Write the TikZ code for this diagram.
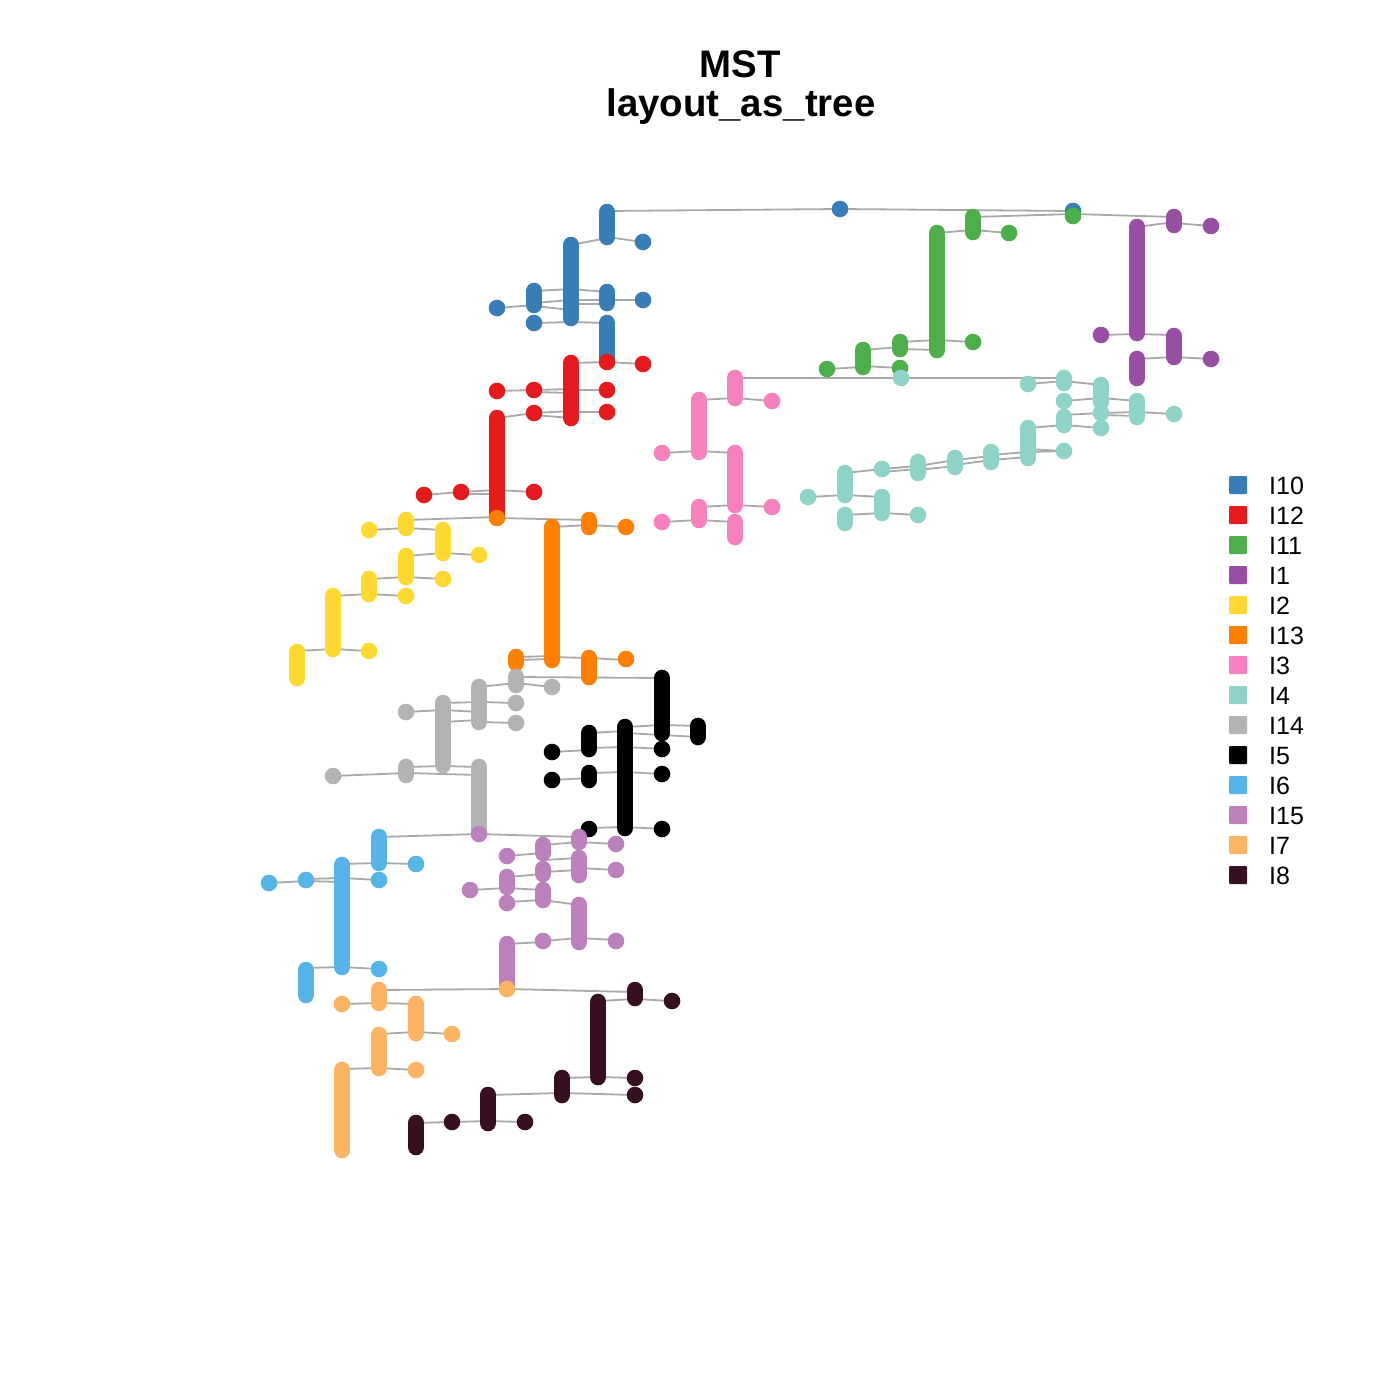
\documentclass[tikz,border=0pt]{standalone}
\usepackage{fontspec}
\setmainfont{Liberation Sans}
\definecolor{c10}{HTML}{377EB8}
\definecolor{c12}{HTML}{E41A1C}
\definecolor{c11}{HTML}{4DAF4A}
\definecolor{c1}{HTML}{984EA3}
\definecolor{c2}{HTML}{FFD92F}
\definecolor{c13}{HTML}{FF7F00}
\definecolor{c3}{HTML}{F781BF}
\definecolor{c4}{HTML}{8DD3C7}
\definecolor{c14}{HTML}{B3B3B3}
\definecolor{c5}{HTML}{000000}
\definecolor{c6}{HTML}{56B4E9}
\definecolor{c15}{HTML}{BC80BD}
\definecolor{c7}{HTML}{FDB462}
\definecolor{c8}{HTML}{360F20}
\definecolor{edgegray}{HTML}{A9A9A9}
\newcommand\mydot[4]{\coordinate (#2) at (#3,#4); \fill[#1] (#2) circle[radius=8.3];}
\newcommand\mybar[5]{\coordinate (#2) at (#3,#4); \coordinate (#2e) at (#3,#5); \draw[#1,line width=16.6pt,line cap=round] (#2) -- (#2e);}
\newcommand\ed[4]{\draw[edge] (#1,#2) -- (#3,#4);}
\newcommand\legrow[4]{\node[lgbox,fill=#1] (lg#2) at (1238,#3) {}; \node[lgtext] (lt#2) at (1269,#3+9) {#4};}
\begin{document}
\begin{tikzpicture}[x=1pt,y=-1pt,
  edge/.style={draw=edgegray,line width=1.8pt},
  lgbox/.style={minimum size=18pt,inner sep=0pt,rounded corners=1pt},
  lgtext/.style={anchor=base west,inner sep=0pt,font=\fontsize{25}{30}\selectfont},
  ttl/.style={anchor=base,inner sep=0pt,font=\fontsize{38.4}{46}\selectfont\bfseries}]
\fill[white] (0,0) rectangle (1400,1400);
\useasboundingbox (0,0) rectangle (1400,1400);
% title
\node[ttl] (t1) at (740,77) {MST};
\node[ttl] (t2) at (741,116) {layout\_as\_tree};
% ---------------- edges ----------------
% I10
\ed{607}{211}{840}{209} \ed{840}{209}{1073}{211}
\ed{571}{245}{607}{238} \ed{607}{237}{643}{242}
\ed{534}{291}{571}{289} \ed{571}{289}{607}{292}
\ed{497}{308}{534}{305} \ed{534}{303}{571}{300} \ed{534}{306}{571}{310}
\ed{571}{300}{607}{300} \ed{571}{304}{607}{304} \ed{607}{300}{643}{300}
\ed{534}{323}{571}{322} \ed{571}{322}{607}{323}
% I11 / I1
\ed{1073}{214}{973}{217} \ed{1073}{214}{1174}{217}
\ed{937}{233}{973}{230} \ed{973}{230}{1009}{233}
\ed{937}{340}{973}{342} \ed{900}{342}{937}{340} \ed{900}{349}{937}{350}
\ed{863}{350}{900}{347} \ed{827}{369}{863}{367} \ed{863}{366}{900}{368}
\ed{1137}{227}{1174}{222} \ed{1174}{223}{1211}{226}
\ed{1101}{335}{1137}{334} \ed{1137}{334}{1174}{335}
\ed{1174}{357}{1211}{359} \ed{1137}{359}{1174}{357}
% I3
\ed{735}{378}{1064}{378}
\ed{699}{400}{735}{398} \ed{735}{398}{772}{401}
\ed{662}{453}{699}{451} \ed{699}{451}{735}{453}
\ed{699}{507}{735}{505} \ed{735}{505}{772}{507}
\ed{662}{522}{699}{520} \ed{699}{520}{735}{522}
% I4
\ed{1028}{384}{1064}{381} \ed{1064}{381}{1101}{385}
\ed{1064}{401}{1101}{398} \ed{1101}{398}{1137}{401}
\ed{1064}{415}{1101}{413} \ed{1064}{425}{1101}{428}
\ed{1101}{413}{1137}{412} \ed{1101}{415}{1137}{416} \ed{1137}{412}{1174}{414}
\ed{1028}{428}{1064}{425} \ed{1028}{449}{1064}{451}
\ed{808}{497}{845}{495} \ed{845}{473}{882}{469} \ed{845}{495}{882}{497}
\ed{845}{515}{882}{513} \ed{882}{513}{918}{515}
\ed{882}{469}{918}{466} \ed{882}{472}{918}{469}
\ed{918}{466}{955}{460} \ed{918}{470}{955}{466}
\ed{955}{460}{991}{456} \ed{955}{465}{991}{460}
\ed{991}{455}{1028}{452} \ed{991}{460}{1028}{457} \ed{1028}{452}{1064}{451}
% I12
\ed{571}{363}{607}{362} \ed{607}{362}{643}{364}
\ed{497}{391}{534}{390} \ed{534}{390}{571}{389} \ed{534}{392}{571}{393} \ed{571}{390}{607}{390}
\ed{497}{418}{534}{413} \ed{534}{413}{571}{411} \ed{534}{415}{571}{418} \ed{571}{412}{607}{412}
\ed{424}{495}{461}{492} \ed{461}{492}{497}{490} \ed{461}{494}{497}{494} \ed{497}{490}{534}{492}
% I13 / I2
\ed{406}{520}{497}{517} \ed{497}{518}{589}{520}
\ed{552}{527}{589}{525} \ed{589}{525}{626}{527}
\ed{369}{530}{406}{528} \ed{406}{528}{443}{530}
\ed{406}{556}{443}{553} \ed{443}{553}{479}{555}
\ed{369}{579}{406}{577} \ed{406}{577}{443}{579}
\ed{333}{596}{369}{594} \ed{369}{594}{406}{596}
\ed{297}{651}{333}{649} \ed{333}{649}{369}{651}
\ed{516}{657}{552}{656} \ed{516}{660}{552}{659}
\ed{552}{657}{589}{658} \ed{589}{658}{626}{660}
% I14
\ed{516}{677}{662}{678}
\ed{479}{687}{516}{683} \ed{516}{683}{552}{687}
\ed{443}{703}{479}{702} \ed{479}{702}{516}{703}
\ed{406}{712}{443}{710} \ed{443}{710}{479}{712}
\ed{443}{722}{479}{720} \ed{479}{722}{516}{723}
\ed{333}{776}{406}{773} \ed{406}{767}{443}{766} \ed{406}{773}{479}{775} \ed{443}{766}{479}{767}
% I5
\ed{625}{727}{662}{725} \ed{662}{725}{698}{726} \ed{662}{735}{698}{737}
\ed{589}{733}{625}{731} \ed{625}{733}{662}{735}
\ed{552}{752}{589}{750} \ed{589}{748}{625}{747} \ed{625}{747}{662}{749}
\ed{552}{780}{589}{778} \ed{589}{773}{625}{772} \ed{625}{772}{662}{774}
\ed{589}{828}{625}{827} \ed{625}{827}{662}{829}
% I15 / I6
\ed{479}{834}{379}{837} \ed{479}{834}{579}{837}
\ed{543}{845}{579}{842} \ed{579}{842}{616}{844}
\ed{507}{856}{543}{853} \ed{543}{860}{579}{858}
\ed{579}{868}{616}{870} \ed{507}{877}{543}{874} \ed{543}{872}{579}{870}
\ed{470}{890}{507}{888} \ed{507}{888}{543}{890}
\ed{507}{902}{543}{900} \ed{543}{900}{579}{905}
\ed{507}{944}{543}{942} \ed{543}{941}{579}{938} \ed{579}{938}{616}{940}
\ed{342}{864}{379}{863} \ed{379}{863}{416}{864}
\ed{269}{883}{306}{881} \ed{306}{879}{342}{878} \ed{306}{881}{342}{882} \ed{342}{878}{379}{880}
\ed{306}{968}{342}{967} \ed{342}{967}{379}{969}
% I7 / I8
\ed{507}{989}{379}{990} \ed{507}{989}{635}{992}
\ed{342}{1004}{379}{1003} \ed{379}{1003}{416}{1004}
\ed{379}{1034}{416}{1032} \ed{416}{1032}{452}{1034}
\ed{342}{1069}{379}{1068} \ed{379}{1068}{416}{1070}
\ed{598}{1001}{635}{999} \ed{635}{999}{672}{1001}
\ed{562}{1078}{598}{1077} \ed{598}{1077}{635}{1078}
\ed{562}{1093}{635}{1095} \ed{488}{1095}{562}{1093}
\ed{452}{1122}{488}{1121} \ed{488}{1121}{525}{1122} \ed{416}{1123}{452}{1122}
% ---------------- vertices ----------------
% I10
\mybar{c10}{b10a}{607}{212}{237}
\mydot{c10}{d10a}{643}{242}
\mybar{c10}{b10b}{571}{245}{318}
\mydot{c10}{d10b}{497}{308}
\mybar{c10}{b10c}{534}{291}{305}
\mydot{c10}{d10c}{534}{323}
\mybar{c10}{b10d}{607}{292}{303}
\mydot{c10}{d10d}{643}{300}
\mybar{c10}{b10e}{607}{323}{358}
\mydot{c10}{d10e}{840}{209}
\mydot{c10}{d10f}{1073}{211}
% I12
\mybar{c12}{b12a}{571}{363}{418}
\mydot{c12}{d12a}{607}{362}
\mydot{c12}{d12b}{643}{364}
\mydot{c12}{d12c}{497}{391}
\mydot{c12}{d12d}{534}{390}
\mydot{c12}{d12e}{607}{390}
\mydot{c12}{d12f}{534}{413}
\mydot{c12}{d12g}{607}{412}
\mybar{c12}{b12b}{497}{418}{517}
\mydot{c12}{d12h}{424}{495}
\mydot{c12}{d12i}{461}{492}
\mydot{c12}{d12j}{534}{492}
% I11
\mydot{c11}{d11a}{1073}{216}
\mybar{c11}{b11a}{973}{217}{232}
\mydot{c11}{d11b}{1009}{233}
\mybar{c11}{b11b}{937}{233}{350}
\mydot{c11}{d11c}{973}{342}
\mybar{c11}{b11c}{900}{342}{349}
\mydot{c11}{d11d}{900}{368}
\mybar{c11}{b11d}{863}{350}{367}
\mydot{c11}{d11e}{827}{369}
% I1
\mybar{c1}{b1a}{1174}{217}{225}
\mydot{c1}{d1a}{1211}{226}
\mybar{c1}{b1b}{1137}{227}{333}
\mydot{c1}{d1b}{1101}{335}
\mybar{c1}{b1c}{1174}{336}{357}
\mydot{c1}{d1c}{1211}{359}
\mybar{c1}{b1d}{1137}{359}{378}
% I2
\mydot{c2}{d2a}{369}{530}
\mybar{c2}{b2a}{406}{520}{528}
\mybar{c2}{b2b}{443}{530}{553}
\mydot{c2}{d2b}{479}{555}
\mybar{c2}{b2c}{406}{556}{577}
\mydot{c2}{d2c}{443}{579}
\mybar{c2}{b2d}{369}{579}{594}
\mydot{c2}{d2d}{406}{596}
\mybar{c2}{b2e}{333}{596}{649}
\mydot{c2}{d2e}{369}{651}
\mybar{c2}{b2f}{297}{652}{678}
% I13
\mydot{c13}{d13a}{497}{518}
\mybar{c13}{b13a}{552}{527}{660}
\mybar{c13}{b13b}{589}{520}{527}
\mydot{c13}{d13b}{626}{527}
\mybar{c13}{b13c}{516}{657}{663}
\mybar{c13}{b13d}{589}{658}{677}
\mydot{c13}{d13c}{626}{659}
% I3
\mybar{c3}{b3a}{735}{378}{398}
\mydot{c3}{d3a}{772}{401}
\mybar{c3}{b3b}{699}{400}{452}
\mydot{c3}{d3b}{662}{453}
\mybar{c3}{b3c}{735}{453}{505}
\mydot{c3}{d3c}{772}{507}
\mybar{c3}{b3d}{699}{507}{520}
\mydot{c3}{d3d}{662}{522}
\mybar{c3}{b3e}{735}{522}{537}
% I4
\mydot{c4}{d4a}{901}{378}
\mydot{c4}{d4b}{1028}{384}
\mybar{c4}{b4a}{1064}{378}{383}
\mydot{c4}{d4c}{1064}{401}
\mybar{c4}{b4b}{1064}{417}{425}
\mybar{c4}{b4c}{1101}{385}{402}
\mydot{c4}{d4d}{1101}{413}
\mydot{c4}{d4e}{1101}{428}
\mybar{c4}{b4d}{1137}{401}{417}
\mydot{c4}{d4f}{1174}{414}
\mybar{c4}{b4e}{1028}{428}{458}
\mydot{c4}{d4g}{1064}{451}
\mydot{c4}{d4h}{808}{497}
\mybar{c4}{b4f}{845}{473}{495}
\mybar{c4}{b4g}{845}{515}{523}
\mydot{c4}{d4i}{882}{469}
\mybar{c4}{b4h}{882}{497}{513}
\mydot{c4}{d4j}{918}{515}
\mybar{c4}{b4i}{918}{462}{473}
\mybar{c4}{b4j}{955}{458}{467}
\mybar{c4}{b4k}{991}{452}{462}
% I14
\mybar{c14}{b14a}{516}{677}{685}
\mydot{c14}{d14a}{552}{687}
\mybar{c14}{b14b}{479}{687}{722}
\mydot{c14}{d14b}{516}{703}
\mydot{c14}{d14c}{516}{723}
\mydot{c14}{d14d}{406}{712}
\mybar{c14}{b14c}{443}{703}{765}
\mybar{c14}{b14d}{406}{767}{775}
\mydot{c14}{d14e}{333}{776}
\mybar{c14}{b14e}{479}{767}{833}
% I5
\mybar{c5}{b5a}{662}{678}{733}
\mydot{c5}{d5a}{662}{749}
\mybar{c5}{b5b}{698}{726}{737}
\mybar{c5}{b5c}{625}{727}{828}
\mybar{c5}{b5d}{589}{733}{749}
\mydot{c5}{d5b}{552}{752}
\mydot{c5}{d5c}{552}{780}
\mybar{c5}{b5e}{589}{773}{780}
\mydot{c5}{d5d}{662}{774}
\mydot{c5}{d5e}{589}{829}
\mydot{c5}{d5f}{662}{829}
% I6
\mybar{c6}{b6a}{379}{837}{863}
\mydot{c6}{d6a}{416}{864}
\mybar{c6}{b6b}{342}{865}{967}
\mydot{c6}{d6b}{269}{883}
\mydot{c6}{d6c}{306}{880}
\mydot{c6}{d6d}{379}{880}
\mydot{c6}{d6e}{379}{969}
\mybar{c6}{b6c}{306}{970}{995}
% I15
\mydot{c15}{d15a}{479}{834}
\mybar{c15}{b15a}{579}{837}{842}
\mydot{c15}{d15b}{616}{844}
\mydot{c15}{d15c}{507}{856}
\mybar{c15}{b15b}{543}{845}{853}
\mybar{c15}{b15c}{579}{858}{875}
\mydot{c15}{d15d}{616}{870}
\mybar{c15}{b15d}{543}{869}{874}
\mybar{c15}{b15e}{543}{890}{900}
\mybar{c15}{b15f}{507}{877}{887}
\mydot{c15}{d15e}{507}{903}
\mydot{c15}{d15f}{470}{890}
\mybar{c15}{b15g}{579}{905}{942}
\mydot{c15}{d15g}{543}{941}
\mydot{c15}{d15h}{616}{941}
\mybar{c15}{b15h}{507}{944}{988}
% I7
\mydot{c7}{d7a}{507}{989}
\mybar{c7}{b7a}{379}{990}{1003}
\mydot{c7}{d7b}{342}{1004}
\mybar{c7}{b7b}{416}{1004}{1033}
\mydot{c7}{d7c}{452}{1034}
\mybar{c7}{b7c}{379}{1035}{1068}
\mydot{c7}{d7d}{416}{1070}
\mybar{c7}{b7d}{342}{1070}{1150}
% I8
\mybar{c8}{b8a}{635}{990}{998}
\mydot{c8}{d8a}{672}{1001}
\mybar{c8}{b8b}{598}{1002}{1077}
\mydot{c8}{d8b}{635}{1078}
\mybar{c8}{b8c}{562}{1078}{1095}
\mydot{c8}{d8c}{635}{1095}
\mybar{c8}{b8d}{488}{1095}{1123}
\mydot{c8}{d8d}{452}{1122}
\mydot{c8}{d8e}{525}{1122}
\mybar{c8}{b8e}{416}{1123}{1147}
% ---------------- legend ----------------
\legrow{c10}{a}{485}{I10}
\legrow{c12}{b}{515}{I12}
\legrow{c11}{c}{545}{I11}
\legrow{c1}{d}{575}{I1}
\legrow{c2}{e}{605}{I2}
\legrow{c13}{f}{635}{I13}
\legrow{c3}{g}{665}{I3}
\legrow{c4}{h}{695}{I4}
\legrow{c14}{i}{725}{I14}
\legrow{c5}{j}{755}{I5}
\legrow{c6}{k}{785}{I6}
\legrow{c15}{l}{815}{I15}
\legrow{c7}{m}{845}{I7}
\legrow{c8}{n}{875}{I8}
\end{tikzpicture}
\end{document}
